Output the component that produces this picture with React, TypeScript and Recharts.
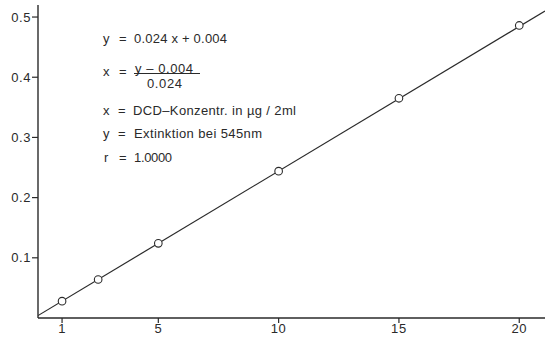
import { ComposedChart, Line, Scatter, XAxis, YAxis } from 'recharts'

// calibration points
const concentration = [1, 2.5, 5, 10, 15, 20]
const extinction = [0.028, 0.064, 0.124, 0.244, 0.365, 0.486]

// regression line y = 0.024x + 0.004, drawn across the whole axis
const fitX = [0, 21.07]
const fitY = [0.004, 0.51]

const xTicks = [1, 5, 10, 15, 20]
const yTicks = [0.1, 0.2, 0.3, 0.4, 0.5]

const points = concentration.map((x, i) => ({ x, y: extinction[i] }))
const fit = fitX.map((x, i) => ({ x, y: fitY[i] }))

const ink = '#2a2a2a'
const font = '"Liberation Sans", Arial, sans-serif'

function Ring(props: any) {
  const { cx, cy } = props
  return <circle cx={cx} cy={cy} r={3.8} fill="#fff" stroke={ink} strokeWidth={1.1} />
}

// the annotation block, left of the line
function Notes() {
  const t = { fontFamily: font, fontSize: 13, fill: ink, lengthAdjust: 'spacing' as const }
  return (
    <svg width={545} height={337} style={{ position: 'absolute', left: 0, top: 0, pointerEvents: 'none' }}>
      <text x={103} y={43} {...t}>y</text>
      <text x={119} y={43} {...t}>=</text>
      <text x={134} y={43} {...t} textLength={93}>0.024 x + 0.004</text>

      <text x={103} y={76} {...t}>x</text>
      <text x={119} y={76} {...t}>=</text>
      <text x={135} y={73} {...t} textLength={58}>y – 0.004</text>
      <line x1={134} x2={200} y1={73.5} y2={73.5} stroke={ink} strokeWidth={1} />
      <text x={147} y={88} {...t} textLength={35}>0.024</text>

      <text x={103} y={115} {...t}>x</text>
      <text x={118} y={115} {...t}>=</text>
      <text x={133} y={115} {...t} textLength={163}>DCD–Konzentr. in µg / 2ml</text>

      <text x={103} y={138} {...t}>y</text>
      <text x={118} y={138} {...t}>=</text>
      <text x={134} y={138} {...t} textLength={128}>Extinktion bei 545nm</text>

      <text x={104} y={162} {...t}>r</text>
      <text x={119} y={162} {...t}>=</text>
      <text x={134} y={162} {...t} textLength={38}>1.0000</text>
    </svg>
  )
}

export default function App() {
  const tick = { fontFamily: font, fontSize: 13, fill: ink, letterSpacing: 0.6 }
  return (
    <div style={{ position: 'absolute', left: 0, top: 0, width: 545, height: 337, background: '#fff' }}>
      <ComposedChart width={545} height={337} margin={{ top: 5, right: 0, bottom: 0, left: 0 }}>
        <XAxis
          type="number"
          dataKey="x"
          domain={[0, 21.07]}
          ticks={xTicks}
          allowDataOverflow
          height={19}
          tickSize={5}
          tickLine={{ stroke: ink, strokeWidth: 1.2 }}
          axisLine={{ stroke: ink, strokeWidth: 1.4 }}
          tick={tick}
          tickMargin={1}
        />
        <YAxis
          type="number"
          dataKey="y"
          domain={[0, 0.52]}
          ticks={yTicks}
          allowDataOverflow
          width={38}
          tickSize={6}
          tickLine={{ stroke: ink, strokeWidth: 1.2 }}
          axisLine={{ stroke: ink, strokeWidth: 1.4 }}
          tick={tick}
          tickMargin={1}
          tickFormatter={(v: number) => String(v)}
        />
        <Line
          data={fit}
          dataKey="y"
          type="linear"
          stroke={ink}
          strokeWidth={1.2}
          dot={false}
          activeDot={false}
          isAnimationActive={false}
        />
        <Scatter data={points} dataKey="y" shape={Ring} isAnimationActive={false} />
      </ComposedChart>
      <Notes />
    </div>
  )
}
